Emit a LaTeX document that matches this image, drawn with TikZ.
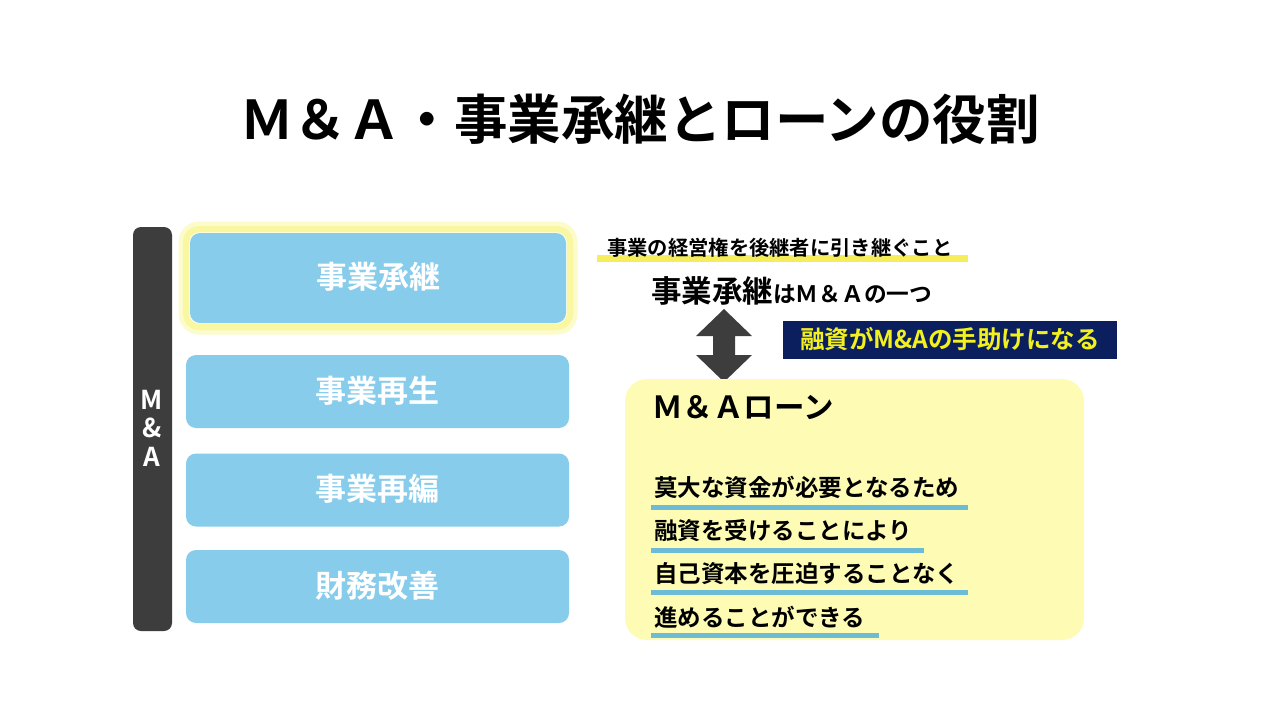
\documentclass[tikz,border=0pt]{standalone}
\usepackage{fontspec}
\setmainfont{Noto Sans CJK JP}[BoldFont={* Bold}]
\usetikzlibrary{positioning}
\definecolor{skyb}{HTML}{87CCEB}
\definecolor{darkg}{HTML}{3D3D3D}
\definecolor{navy}{HTML}{0B1F5E}
\definecolor{ytext}{HTML}{F2F01E}
\definecolor{ybox}{HTML}{FEFCB4}
\definecolor{uline}{HTML}{6CBCD6}
\definecolor{hilite}{HTML}{F5EE5A}
\definecolor{glow}{HTML}{F9F7A0}
\tikzset{
  fs/.style={font=\fontsize{#1}{#1}\selectfont},
  bfs/.style={font=\bfseries\fontsize{#1}{#1}\selectfont},
  bluebox/.style={fill=skyb, rounded corners=10pt, inner sep=0pt,
     minimum width=383pt, minimum height=73pt, text=white,
     font=\bfseries\fontsize{31}{31}\selectfont},
  barletter/.style={text=white, font=\bfseries\fontsize{26}{26}\selectfont, inner sep=0pt},
  listline/.style={anchor=west, inner sep=0pt, font=\bfseries\fontsize{23.5}{23.5}\selectfont},
  ulinestyle/.style={draw=uline, line width=5pt},
}
\begin{document}
\begin{tikzpicture}[x=1pt,y=-1pt]
\useasboundingbox (0,0) rectangle (1280,720);
\fill[white] (0,0) rectangle (1280,720);

% title
\node[bfs=53.5] (title) at (640,119) {Ｍ＆Ａ・事業承継とローンの役割};

% left dark bar
\node[fill=darkg, rounded corners=8pt, minimum width=39pt, minimum height=404pt, inner sep=0pt] (bar) at (152.5,429) {};
\node[barletter] (bm) at (152,400) {M};
\node[barletter] (ba) at (152,428) {\&};
\node[barletter] (bA) at (152,457) {A};

% glow around first box
\draw[glow!55, line width=11pt, rounded corners=15pt] (184,227) rectangle (572,329);
\draw[glow, line width=6pt, rounded corners=13pt] (186,229) rectangle (570,327);
\node[bluebox, minimum width=376pt, minimum height=90pt] (b1) at (378,278) {\raisebox{5pt}{事業承継}};
\node[bluebox] (b2) at (377.5,391.5) {\raisebox{5pt}{事業再生}};
\node[bluebox] (b3) at (377.5,490) {\raisebox{5pt}{事業再編}};
\node[bluebox] (b4) at (377.5,586.5) {\raisebox{5pt}{財務改善}};

% definition text with highlight
\fill[hilite] (597,255) rectangle (968,262);
\node[bfs=20.3, anchor=west, inner sep=0pt] (def) at (607,248) {事業の経営権を後継者に引き継ぐこと};
\node[anchor=west, inner sep=0pt] (one) at (651,291) {{\bfseries\fontsize{30.5}{30.5}\selectfont 事業承継}{\bfseries\fontsize{22.7}{22.7}\selectfont はＭ＆Ａの一つ}};

% double arrow
\fill[darkg] (724,309) -- (752,336) -- (735,336) -- (735,355) -- (752,355) -- (724,382)
  -- (696,355) -- (713,355) -- (713,336) -- (696,336) -- cycle;

% navy label
\node[fill=navy, text=ytext, minimum width=334pt, minimum height=38pt, inner sep=0pt,
  font=\bfseries\fontsize{24.5}{24.5}\selectfont] (help) at (950,339.5) {融資がM\&Aの手助けになる};

% yellow box
\node[fill=ybox, rounded corners=22pt, minimum width=459pt, minimum height=261pt, inner sep=0pt] (loan) at (854.5,509.5) {};
\node[anchor=west, inner sep=0pt, font=\bfseries\fontsize{30.5}{30.5}\selectfont] (loant) at (652,407) {Ｍ＆Ａローン};

\draw[ulinestyle] (651,507) -- (968,507);
\draw[ulinestyle] (651,550) -- (924,550);
\draw[ulinestyle] (651,592) -- (968,592);
\draw[ulinestyle] (651,635) -- (879,635);
\node[listline] (l1) at (654,487) {莫大な資金が必要となるため};
\node[listline] (l2) at (654,531) {融資を受けることにより};
\node[listline] (l3) at (654,574) {自己資本を圧迫することなく};
\node[listline] (l4) at (654,617) {進めることができる};
\end{tikzpicture}
\end{document}
